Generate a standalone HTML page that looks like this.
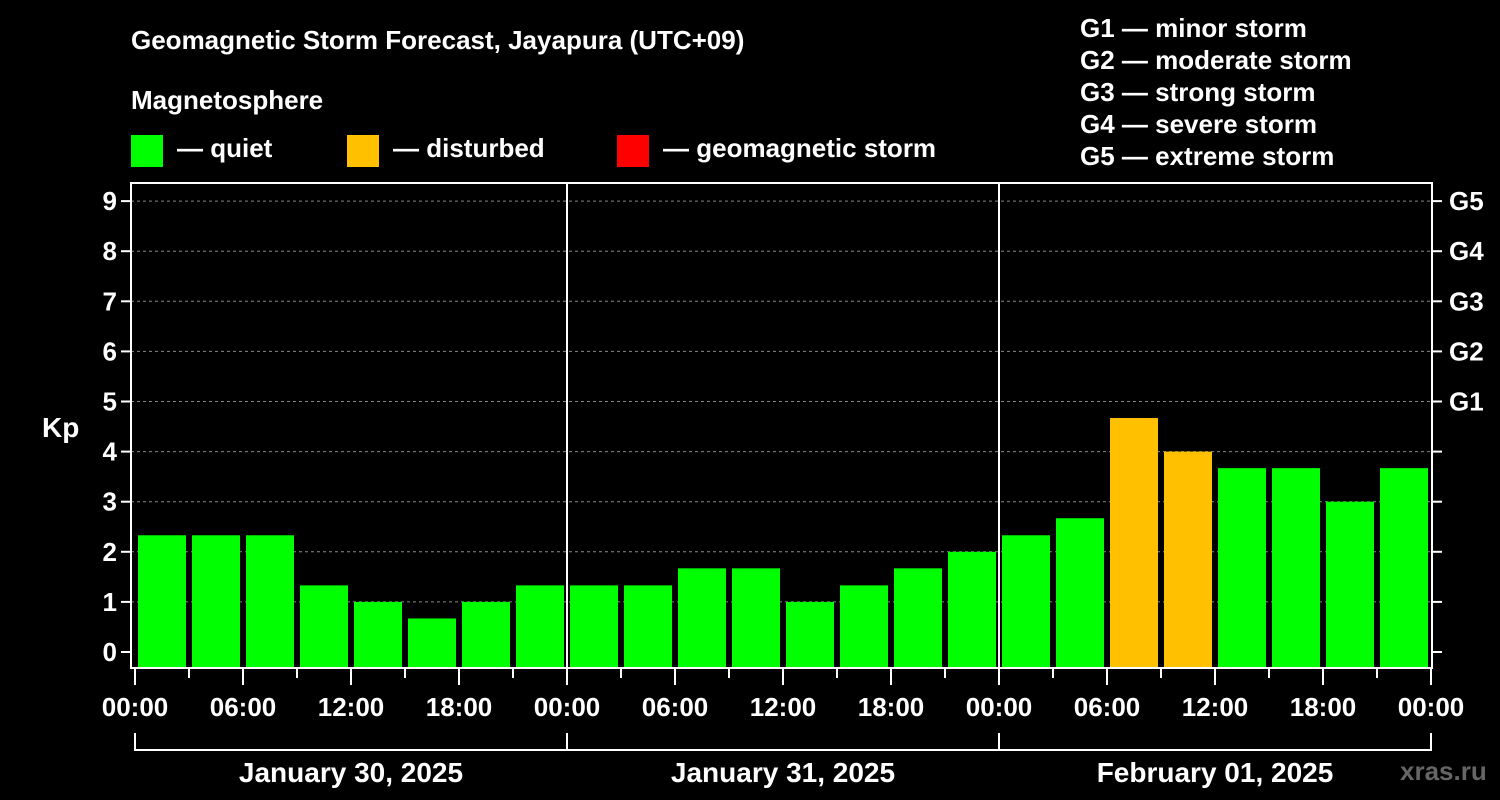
<!DOCTYPE html>
<html><head><meta charset="utf-8"><style>
body{margin:0;background:#000;width:1500px;height:800px;overflow:hidden}
svg{display:block;font-family:"Liberation Sans",Arial,sans-serif;font-weight:bold}
</style></head><body>
<svg id="c" width="1500" height="800" xmlns="http://www.w3.org/2000/svg">
<text x="131" y="49" fill="#fff" font-size="26">Geomagnetic Storm Forecast, Jayapura (UTC+09)</text>
<text x="131" y="109" fill="#fff" font-size="26">Magnetosphere</text>
<g><rect x="131" y="135" width="32" height="32" fill="#00ff00"/><text x="177" y="157" fill="#fff" font-size="26">— quiet</text></g>
<g><rect x="347" y="135" width="32" height="32" fill="#ffc000"/><text x="393" y="157" fill="#fff" font-size="26">— disturbed</text></g>
<g><rect x="617" y="135" width="32" height="32" fill="#ff0000"/><text x="663" y="157" fill="#fff" font-size="26">— geomagnetic storm</text></g>
<g fill="#fff" font-size="26">
<text x="1080" y="37">G1 — minor storm</text><text x="1080" y="69">G2 — moderate storm</text><text x="1080" y="101">G3 — strong storm</text><text x="1080" y="133">G4 — severe storm</text><text x="1080" y="165">G5 — extreme storm</text></g>
<text x="42" y="437" fill="#fff" font-size="28">Kp</text>
<text x="1400" y="780" fill="#666" font-size="26">xras.ru</text>
<g id="plot"></g>
</svg>
<script>
const values=[2.33,2.33,2.33,1.33,1,0.67,1,1.33,1.33,1.33,1.67,1.67,1,1.33,1.67,2,2.33,2.67,4.67,4,3.67,3.67,3,3.67];
const yTicks=[0,1,2,3,4,5,6,7,8,9];
const gLabels=["G1","G2","G3","G4","G5"];
const hourLabels=["00:00","06:00","12:00","18:00"];
const dayLabels=["January 30, 2025","January 31, 2025","February 01, 2025"];
const NS="http://www.w3.org/2000/svg";
const L=131,R=1432,T=183,B=668,X0=135,DAY=432;
const y=k=>652-50.1*k;
const x=i=>X0+i*DAY/8;
const p=document.getElementById('plot');
function mk(t,a,parent){const e=document.createElementNS(NS,t);for(const k in a)e.setAttribute(k,a[k]);(parent||p).appendChild(e);return e;}
yTicks.forEach(k=>{
  if(k>0){const g=mk('line',{x1:L,x2:R,y1:y(k),y2:y(k),stroke:'#888','stroke-dasharray':'3,3'});
  
  }
  const t1=mk('line',{x1:L-10,x2:L,y1:y(k),y2:y(k),stroke:'#fff','stroke-width':2});
  
  
  const t2=mk('line',{x1:R,x2:R+10,y1:y(k),y2:y(k),stroke:'#fff','stroke-width':2});
  
  
  const tx=mk('text',{x:L-14,y:y(k)+9,fill:'#fff','font-size':26,'text-anchor':'end'});tx.textContent=k;
  
  
});
gLabels.forEach((g,i)=>{const t=mk('text',{x:R+17,y:y(5+i)+9,fill:'#fff','font-size':26});t.textContent=g;
  
  });
values.forEach((v,i)=>{
  const r=mk('rect',{x:x(i)+3,y:y(v),width:48,height:B-y(v),fill:v>=5?'#ff0000':(v>=4?'#ffc000':'#00ff00')});
  
  
});
for(let d=1;d<dayLabels.length;d++){const l=mk('line',{x1:X0+d*DAY,x2:X0+d*DAY,y1:T,y2:B,stroke:'#fff','stroke-width':2});
  
  }
const fr=mk('rect',{x:L,y:T,width:R-L,height:B-T,fill:'none',stroke:'#fff','stroke-width':2});


for(let i=0;i<=values.length;i++){
  const major=i%2==0;
  const t=mk('line',{x1:x(i),x2:x(i),y1:B,y2:major?685:678,stroke:'#fff','stroke-width':2});
  
  
  if(major){const tx=mk('text',{x:x(i),y:716,fill:'#fff','font-size':26,'text-anchor':'middle'});
    tx.textContent=hourLabels[(i/2)%4];
    
    }
}
dayLabels.forEach((d,i)=>{
  const x1=X0+i*DAY,x2=X0+(i+1)*DAY;
  const pl=mk('polyline',{points:`${x1},733 ${x1},750 ${x2},750 ${x2},733`,fill:'none',stroke:'#fff','stroke-width':2});
  
  
  const t=mk('text',{x:(x1+x2)/2,y:782,fill:'#fff','font-size':28,'text-anchor':'middle'});t.textContent=d;
  
  
});
</script>
</body></html>
